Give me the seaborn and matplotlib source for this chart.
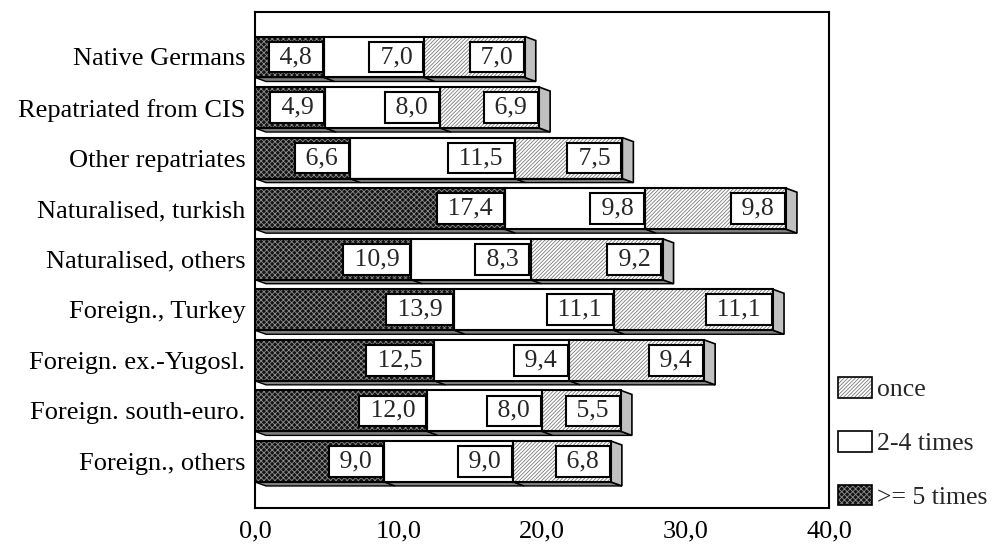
import numpy as np
import pandas as pd
import matplotlib
matplotlib.use("Agg")
import matplotlib.pyplot as plt
import seaborn as sns
from matplotlib.patches import Rectangle, Polygon, Patch
from matplotlib.legend_handler import HandlerTuple

# ---------------- data ----------------
categories = ["Native Germans", "Repatriated from CIS", "Other repatriates",
              "Naturalised, turkish", "Naturalised, others", "Foreign., Turkey",
              "Foreign. ex.-Yugosl.", "Foreign. south-euro.", "Foreign., others"]
times_5plus = [4.8, 4.9, 6.6, 17.4, 10.9, 13.9, 12.5, 12.0, 9.0]
times_2to4 = [7.0, 8.0, 11.5, 9.8, 8.3, 11.1, 9.4, 8.0, 9.0]
times_once = [7.0, 6.9, 7.5, 9.8, 9.2, 11.1, 9.4, 5.5, 6.8]
tick_values = [0, 10, 20, 30, 40]
legend_labels = ["once", "2-4 times", ">= 5 times"]

# ---------------- style ----------------
sns.set_style("white")
plt.rcParams["font.family"] = ["Liberation Serif", "DejaVu Serif"]
plt.rcParams["hatch.linewidth"] = 0.6

W, H = 994, 549
fig = plt.figure(figsize=(W / 100, H / 100), dpi=100)
ax_left, ax_right, ax_top, ax_bot = 255, 829, 12, 508
ax = fig.add_axes([ax_left / W, 1 - ax_bot / H, (ax_right - ax_left) / W, (ax_bot - ax_top) / H])

c1 = np.array(times_5plus)
c2 = c1 + np.array(times_2to4)
c3 = c2 + np.array(times_once)
df = pd.DataFrame({"cat": categories, "c1": c1, "c2": c2, "c3": c3})

BAR_W = 0.81
DARK_FC, DARK_HC = "#141414", "#8e8e8e"
ONCE_HC = "#7a7a7a"
ONCE_HATCH = "/////////"
layers = [("c3", "white", ONCE_HATCH, ONCE_HC),
          ("c2", "white", None, "white"),
          ("c1", DARK_FC, "xxxxxx", DARK_HC)]
layer_patches = {}
for col, fc, hatch, hc in layers:
    n0 = len(ax.patches)
    sns.barplot(data=df, x=col, y="cat", orient="h", color=fc, saturation=1,
                width=BAR_W, ax=ax)
    new = ax.patches[n0:]
    for p in new:
        p.set_facecolor(fc)
        p.set_edgecolor(hc)
        p.set_linewidth(0)
        if hatch:
            p.set_hatch(hatch)
    layer_patches[col] = new

ax.set_xlabel("")
ax.set_ylabel("")
ax.set_xlim(tick_values[0], tick_values[-1])
ax.set_ylim(len(categories) - 1 + 0.92, -0.89)

# depth of the 3D effect, converted from pixels to data units
ax_w_px = ax_right - ax_left
ax_h_px = ax_bot - ax_top
dx = 11 * (tick_values[-1] - tick_values[0]) / ax_w_px
dy = 4 * (len(categories) - 1 + 0.92 + 0.89) / ax_h_px

lefts = [np.zeros(len(categories)), c1, c2]
rights = [c1, c2, c3]
values = [times_5plus, times_2to4, times_once]

geo = layer_patches["c3"]
for i in range(len(categories)):
    y0 = geo[i].get_y()
    h = geo[i].get_height()
    yt, yb = y0, y0 + h
    yc = y0 + h / 2
    for j in range(3):
        x0, x1 = lefts[j][i], rights[j][i]
        # bottom face
        ax.add_patch(Polygon([(x0, yb), (x1, yb), (x1 + dx, yb + dy), (x0 + dx, yb + dy)],
                             closed=True, fc="#808080", ec="black", lw=1.0, zorder=3))
        # outline of front face
        ax.add_patch(Rectangle((x0, yt), x1 - x0, h, fill=False, ec="black", lw=1.5, zorder=4))
        # value label
        txt = " " + f"{values[j][i]:.1f}".replace(".", ",") + " "
        ax.annotate(txt, xy=(x1, yc), xytext=(-4, 0), textcoords="offset points",
                    ha="right", va="center", fontsize=18.5, zorder=6,
                    bbox=dict(boxstyle="square,pad=0.17", fc="white", ec="black", lw=1.5))
    # right side face
    xe = rights[2][i]
    ax.add_patch(Polygon([(xe, yt), (xe + dx, yt + dy), (xe + dx, yb + dy), (xe, yb)],
                         closed=True, fc="#c0c0c0", ec="black", lw=1.2, zorder=3))

ax.set_xticks(tick_values)
ax.set_xticklabels([f"{v:.1f}".replace(".", ",") for v in tick_values])
ax.tick_params(axis="both", length=0, labelsize=19, colors="black")
ax.tick_params(axis="x", pad=9)
ax.tick_params(axis="y", pad=7)
ax.grid(False)
for s in ax.spines.values():
    s.set_visible(True)
    s.set_color("black")
    s.set_linewidth(1.5)

# ---------------- legend ----------------
outline = dict(fill=False, ec="black", lw=1.2)
h_once = (Patch(fc="white", ec=ONCE_HC, hatch=ONCE_HATCH, lw=0), Patch(**outline))
h_two = (Patch(fc="white", ec="white", lw=0), Patch(**outline))
h_five = (Patch(fc=DARK_FC, ec=DARK_HC, hatch="xxxxxx", lw=0), Patch(**outline))
fig.legend([h_once, h_two, h_five], legend_labels,
           handler_map={tuple: HandlerTuple(ndivide=1, pad=0)},
           loc="center left", bbox_to_anchor=(838 / W, 1 - 443 / H),
           frameon=False, fontsize=18.5, handlelength=1.32, handleheight=0.86,
           handletextpad=0.2, labelspacing=1.15, borderpad=0, borderaxespad=0)

fig.savefig("out.png", dpi=100)
